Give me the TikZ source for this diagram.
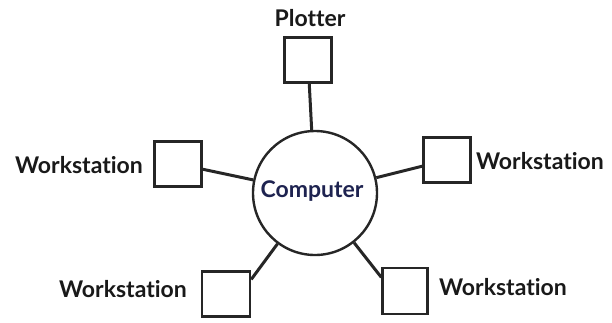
\documentclass[tikz,border=0pt]{standalone}
\usepackage{fontspec}
\setmainfont[Ligatures=NoCommon]{Lato}
\begin{document}
\begin{tikzpicture}[x=1pt,y=-1pt,
  device/.style={draw=black!85, line width=2.4pt, fill=white, minimum width=47pt, minimum height=45pt, inner sep=0pt},
  hub/.style={draw=black!85, line width=2.4pt, fill=white, circle, minimum size=124pt, inner sep=0pt},
  lbl/.style={font=\bfseries\fontsize{23}{26}\selectfont, text=black!90, inner sep=0pt},
  link/.style={line width=3pt, draw=black!85}]
\useasboundingbox (0,0) rectangle (612,322);
\fill[white] (0,0) rectangle (612,322);

% central computer
\node[hub] (comp) at (315,193) {};
\node[lbl, text={rgb,255:red,30;green,35;blue,80}] (compt) at (312,191) {Computer};

% peripherals
\node[device] (plot) at (308,60) {};
\node[device] (wl) at (178,164) {};
\node[device] (wr) at (447,160) {};
\node[device, minimum width=48pt] (bl) at (226,294) {};
\node[device, minimum width=45pt, minimum height=46pt] (br) at (405,291) {};

% labels
\node[lbl] (plott) at (310,18) {Plotter};
\node[lbl] (wlt) at (79,165) {Workstation};
\node[lbl] (wrt) at (540,161) {Workstation};
\node[lbl] (blt) at (123,289) {Workstation};
\node[lbl] (brt) at (503,287) {Workstation};

% connections
\draw[link] (plot) -- (comp);
\draw[link] (wl) -- (comp);
\draw[link] (wr) -- (comp);
\draw[link] (bl.30) -- (comp);
\draw[link] (br.150) -- (comp);
\end{tikzpicture}
\end{document}
